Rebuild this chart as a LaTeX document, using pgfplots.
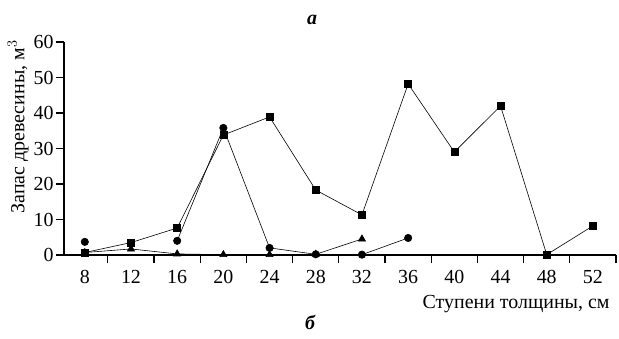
\documentclass[border=0pt]{standalone}
\usepackage{pgfplots}
\pgfplotsset{compat=1.18}
\usepackage{fontspec}
\setmainfont{Liberation Serif}
\begin{document}
\begin{tikzpicture}[x=1bp,y=1bp]
\path[use as bounding box] (0,0) rectangle (619,338);
\begin{axis}[
  at={(64bp,83bp)}, anchor=south west,
  scale only axis, width=552bp, height=213bp,
  xmin=6.2, xmax=54, ymin=0, ymax=60,
  axis x line=bottom, axis y line=left,
  axis line style={line width=1.2pt,-},
  xtick={8,12,...,52},
  minor xtick={10,14,...,54},
  major x tick style={draw=none},
  minor x tick style={line width=1.2pt, black},
  ytick={0,10,...,60},
  y tick style={line width=1.2pt, black},
  tick align=outside,
  major tick length=8bp, minor tick length=8bp,
  tick label style={font=\fontsize{20}{20}\selectfont},
  /pgf/number format/assume math mode=true,
  xticklabel style={yshift=-4bp},
  yticklabel style={xshift=1bp},
  clip=false,
  every axis plot/.append style={black, line width=0.6pt, mark size=3.5bp},
  unbounded coords=jump,
]
\addplot[mark=square*, mark options={solid}] coordinates {
 (8,0.7) (12,3.5) (16,7.6) (20,33.8) (24,38.9) (28,18.3) (32,11.3) (36,48.2) (40,29.0) (44,42.0) (48,0.1) (52,8.2)};
\addplot[mark=*, mark size=3.7bp] coordinates {
 (8,3.7) (12,nan) (16,4.0) (20,35.8) (24,2.0) (28,0.2) (32,0.1) (36,4.8)};
\addplot[mark=triangle*, mark size=4.1bp] coordinates {
 (8,0.7) (12,1.7) (16,0.3) (20,0.1) (24,0.1) (28,0.2) (32,4.5)};
\end{axis}
\node[rotate=90, font=\fontsize{20}{20}\selectfont] at (18,211) {Запас древесины, м$^{3}$};
\node[anchor=base east, font=\fontsize{20}{20}\selectfont] at (613,30) {Ступени толщины, см};
\node[font=\fontsize{20}{20}\selectfont\bfseries\itshape] at (312,318) {а};
\node[font=\fontsize{20}{20}\selectfont\bfseries\itshape] at (310,16) {б};
\end{tikzpicture}
\end{document}
